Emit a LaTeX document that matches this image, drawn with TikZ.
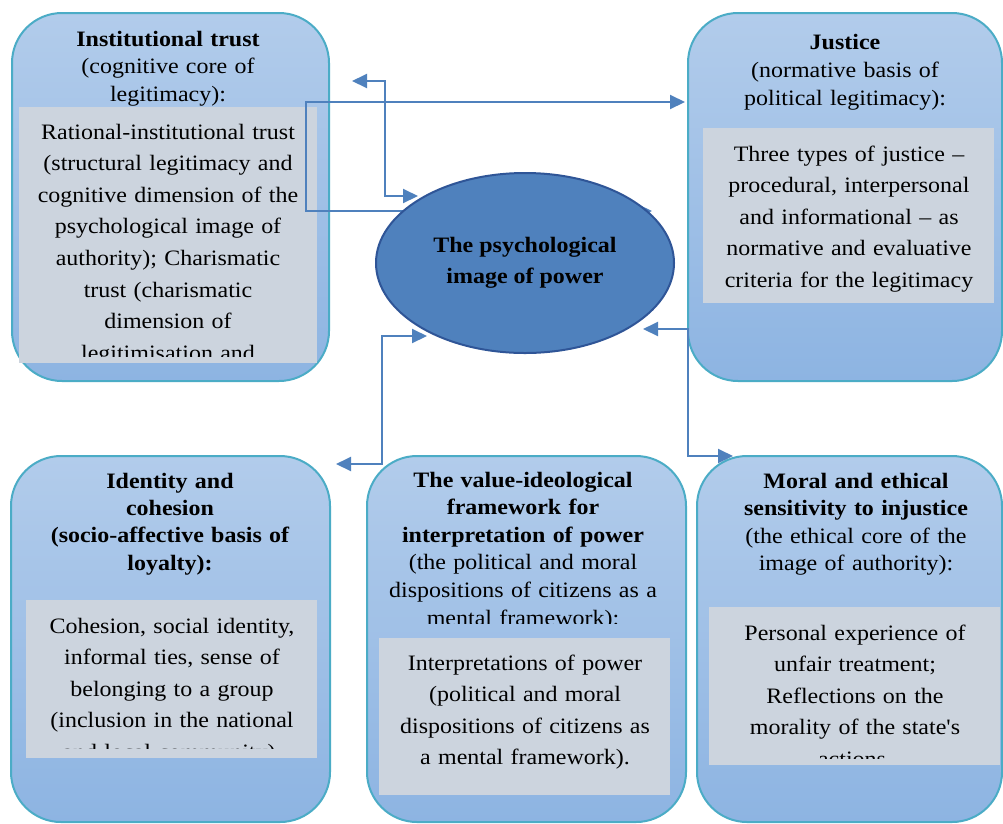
\documentclass[tikz,border=0pt]{standalone}
\usepackage{fontspec}
\setmainfont{Liberation Serif}[FakeStretch=1.09, Ligatures=TeXOff]
\usetikzlibrary{arrows.meta,shapes.geometric}
\definecolor{boxtop}{RGB}{178,204,235}
\definecolor{boxbot}{RGB}{141,180,226}
\definecolor{boxline}{RGB}{75,172,198}
\definecolor{graybox}{RGB}{204,212,222}
\definecolor{ellfill}{RGB}{79,129,189}
\definecolor{elldraw}{RGB}{47,85,151}
\definecolor{connblue}{RGB}{79,129,189}
\begin{document}
\begin{tikzpicture}[x=1pt,y=-1pt,
  outerbox/.style={draw=boxline, line width=2pt, rounded corners=50pt, top color=boxtop, bottom color=boxbot, anchor=north west, inner sep=0pt},
  innerbox/.style={fill=graybox, anchor=north west, inner sep=0pt, draw=none},
  titletext/.style={anchor=base, text width=320pt, align=center, inner sep=0pt, font=\fontsize{22}{27.6}\selectfont},
  bodytext/.style={anchor=base, text width=320pt, align=center, inner sep=0pt, font=\fontsize{22}{31.6}\selectfont},
  linkarrow/.style={draw=connblue, line width=2pt, {Triangle[length=15pt,width=14pt]}-{Triangle[length=15pt,width=14pt]}},
]
\fill[white] (0,0) rectangle (1003,823);
\useasboundingbox (0,0) rectangle (1003,823);

% outer boxes
\node[outerbox, minimum width=317pt, minimum height=368pt] (b1) at (11,12) {};
\node[outerbox, minimum width=314pt, minimum height=368pt] (b2) at (687,12) {};
\node[outerbox, minimum width=319pt, minimum height=366pt] (b4) at (10,455) {};
\node[outerbox, minimum width=319pt, minimum height=366pt] (b5) at (366,455) {};
\node[outerbox, minimum width=305pt, minimum height=366pt] (b6) at (696,455) {};

% inner gray boxes
\node[innerbox, minimum width=298pt, minimum height=256pt] (g1) at (19,107) {};
\node[innerbox, minimum width=291pt, minimum height=175pt] (g2) at (703,128) {};
\node[innerbox, minimum width=291pt, minimum height=158pt] (g4) at (26,600) {};
\node[innerbox, minimum width=291pt, minimum height=157pt] (g5) at (379,638) {};
\node[innerbox, minimum width=291pt, minimum height=158pt] (g6) at (709,607) {};

% box 1
\node[titletext] (t1) at (168,46) {\textbf{Institutional trust}\\(cognitive core of\\legitimacy):};
\begin{scope}
\clip (19,107) rectangle (317,356);
\node[bodytext] (x1) at (168,139) {Rational-institutional trust\\(structural legitimacy and\\cognitive dimension of the\\psychological image of\\authority); Charismatic\\trust (charismatic\\dimension of\\legitimisation and};
\end{scope}

% box 2
\node[titletext, font=\fontsize{22}{28}\selectfont] (t2) at (845,49) {\textbf{Justice}\\(normative basis of\\political legitimacy):};
\node[bodytext] (x2) at (849,161) {Three types of justice –\\procedural, interpersonal\\and informational – as\\normative and evaluative\\criteria for the legitimacy};

% box 4
\node[titletext, font=\bfseries\fontsize{22}{27.4}\selectfont] (t4) at (170,488) {Identity and\\cohesion\\(socio-affective basis of\\loyalty):};
\begin{scope}
\clip (26,600) rectangle (317,748);
\node[bodytext] (x4) at (172,633) {Cohesion, social identity,\\informal ties, sense of\\belonging to a group\\(inclusion in the national\\and local community).};
\end{scope}

% box 5
\begin{scope}
\clip (366,455) rectangle (685,623);
\node[titletext] (t5) at (523,487) {\textbf{The value-ideological}\\\textbf{framework for}\\\textbf{interpretation of power}\\(the political and moral\\dispositions of citizens as a\\mental framework):};
\end{scope}
\node[bodytext] (x5) at (525,670) {Interpretations of power\\(political and moral\\dispositions of citizens as\\a mental framework).};

% box 6
\node[titletext] (t6) at (856,488) {\textbf{Moral and ethical}\\\textbf{sensitivity to injustice}\\(the ethical core of the\\image of authority):};
\begin{scope}
\clip (709,607) rectangle (1000,758.5);
\node[bodytext] (x6) at (855,640) {Personal experience of\\unfair treatment;\\Reflections on the\\morality of the state's\\actions.};
\end{scope}

% connectors
\coordinate (a1) at (352,81);
\coordinate (a1k) at (385,81);
\coordinate (a2k) at (385,196);
\coordinate (a2) at (418,196);
\draw[linkarrow] (a1) -- (a1k) -- (a2k) -- (a2);

\coordinate (c1) at (652,211);
\coordinate (c1k) at (306,211);
\coordinate (c2k) at (306,102);
\coordinate (c2) at (685,102);
\draw[linkarrow] (c1) -- (c1k) -- (c2k) -- (c2);

\coordinate (d1) at (427,336);
\coordinate (d1k) at (382,336);
\coordinate (d2k) at (382,464);
\coordinate (d2) at (336,464);
\draw[linkarrow] (d1) -- (d1k) -- (d2k) -- (d2);

\coordinate (e1) at (643,329);
\coordinate (e1k) at (688,329);
\coordinate (e2k) at (688,456);
\coordinate (e2) at (733,456);
\draw[linkarrow] (e1) -- (e1k) -- (e2k) -- (e2);

% central ellipse
\node[ellipse, draw=elldraw, fill=ellfill, line width=2pt, minimum width=298pt, minimum height=180pt, inner sep=0pt, align=center, font=\bfseries\fontsize{22}{31}\selectfont] (img) at (525,263) {The psychological\\image of power};
\end{tikzpicture}
\end{document}
